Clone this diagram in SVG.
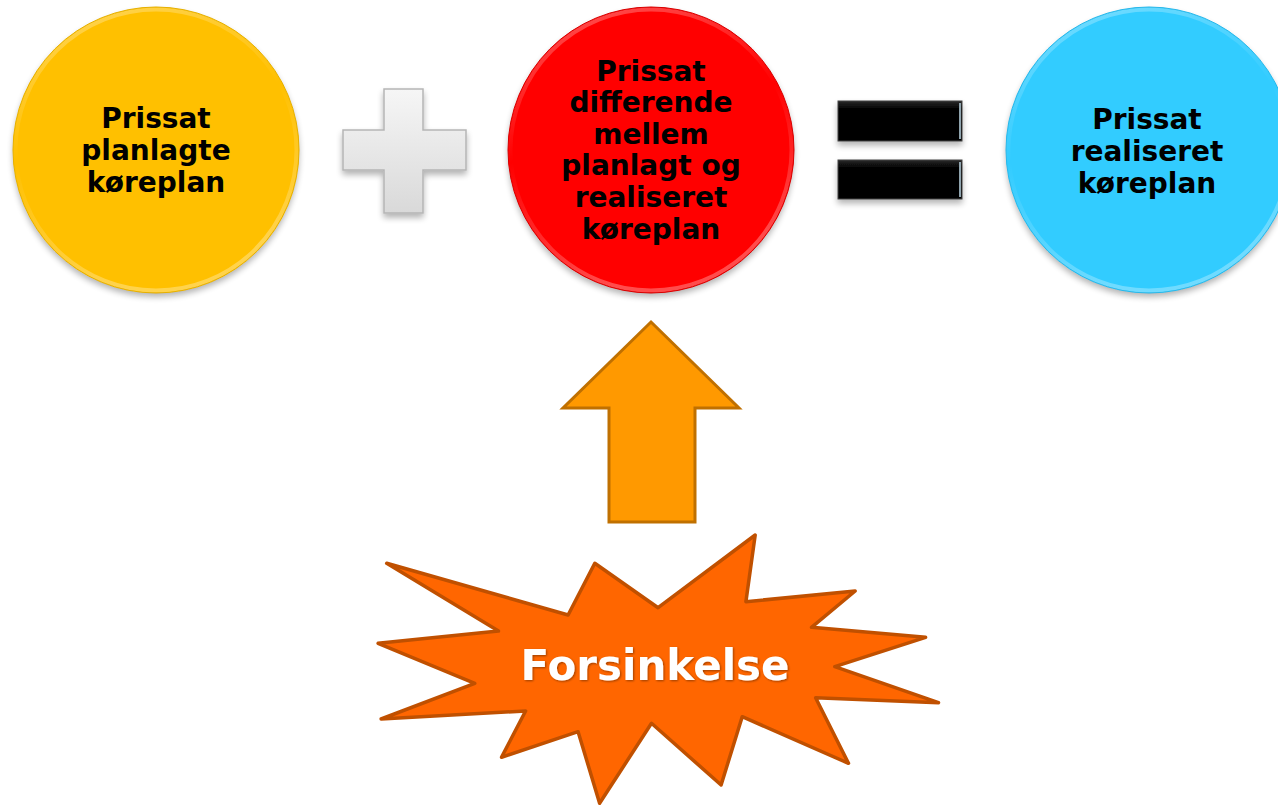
<svg xmlns="http://www.w3.org/2000/svg" width="1278" height="805" viewBox="0 0 1278 805">
<defs>
<filter id="shadow" x="-20%" y="-20%" width="140%" height="150%">
<feGaussianBlur in="SourceAlpha" stdDeviation="3"/>
<feOffset dx="0" dy="4" result="b"/>
<feComponentTransfer><feFuncA type="linear" slope="0.3"/></feComponentTransfer>
<feMerge><feMergeNode/><feMergeNode in="SourceGraphic"/></feMerge>
</filter>
<filter id="tshadow" x="-5%" y="-20%" width="110%" height="140%">
<feGaussianBlur in="SourceAlpha" stdDeviation="0.8"/>
<feOffset dx="1" dy="1"/>
<feComponentTransfer><feFuncA type="linear" slope="0.4"/></feComponentTransfer>
<feMerge><feMergeNode/><feMergeNode in="SourceGraphic"/></feMerge>
</filter>
<linearGradient id="rim" x1="0" y1="0" x2="0.3" y2="1">
<stop offset="0" stop-color="#fff" stop-opacity="0.35"/>
<stop offset="0.5" stop-color="#fff" stop-opacity="0"/>
<stop offset="1" stop-color="#fff" stop-opacity="0.3"/>
</linearGradient>
<linearGradient id="plusFill" x1="0" y1="0" x2="0" y2="1">
<stop offset="0" stop-color="#f6f6f6"/>
<stop offset="1" stop-color="#d9d9d9"/>
</linearGradient>
<linearGradient id="eqFill" x1="0" y1="0" x2="0" y2="1">
<stop offset="0" stop-color="#2a2a2a"/>
<stop offset="0.2" stop-color="#000"/>
<stop offset="1" stop-color="#050505"/>
</linearGradient>
<style>
.lbl{font-family:"DejaVu Sans","Verdana",sans-serif;font-weight:bold;font-size:28px;fill:#000;text-anchor:middle}
.rimc{fill:none;stroke:url(#rim);stroke-width:4}
.edge{fill:none;stroke-width:1}
.burst{fill:#FF6600;stroke:#C05000;stroke-width:3.5;stroke-linejoin:round}
.big{font-family:"DejaVu Sans","Verdana",sans-serif;font-weight:bold;font-size:42px;fill:#fff;text-anchor:middle}
</style>
</defs>
<rect width="1278" height="805" fill="#fff"/>

<g id="planned">
<circle cx="156" cy="150" r="143" fill="#FFC000" filter="url(#shadow)"/>
<circle cx="156" cy="150" r="140.5" class="rimc"/>
<circle cx="156" cy="150" r="143" class="edge" stroke="#E6B000"/>
<text class="lbl" x="156" y="128">Prissat</text>
<text class="lbl" x="156" y="160">planlagte</text>
<text class="lbl" x="156" y="192">køreplan</text>
</g>

<g id="plus" filter="url(#shadow)">
<path d="M384,89 H423 V130 H466 V170 H423 V213 H384 V170 H343 V130 H384 Z" fill="url(#plusFill)" stroke="#b5b5b5" stroke-width="1.5"/>
</g>

<g id="difference">
<circle cx="651" cy="150" r="143" fill="#FF0000" filter="url(#shadow)"/>
<circle cx="651" cy="150" r="140.5" class="rimc"/>
<circle cx="651" cy="150" r="143" class="edge" stroke="#D80000"/>
<text class="lbl" x="651" y="81">Prissat</text>
<text class="lbl" x="651" y="112">differende</text>
<text class="lbl" x="651" y="144">mellem</text>
<text class="lbl" x="651" y="175">planlagt og</text>
<text class="lbl" x="651" y="207">realiseret</text>
<text class="lbl" x="651" y="239">køreplan</text>
</g>

<g id="equals" filter="url(#shadow)">
<rect x="838" y="101" width="124" height="40" fill="url(#eqFill)" stroke="#444" stroke-width="1"/>
<rect x="838" y="160" width="124" height="39" fill="url(#eqFill)" stroke="#444" stroke-width="1"/>
<line x1="960" y1="103" x2="960" y2="139" stroke="#8fa3ad" stroke-width="2"/>
<line x1="960" y1="162" x2="960" y2="197" stroke="#8fa3ad" stroke-width="2"/>
</g>

<g id="realized">
<circle cx="1149" cy="150" r="143" fill="#33CCFF" filter="url(#shadow)"/>
<circle cx="1149" cy="150" r="140.5" class="rimc"/>
<circle cx="1149" cy="150" r="143" class="edge" stroke="#28B8EA"/>
<text class="lbl" x="1147" y="129">Prissat</text>
<text class="lbl" x="1147" y="161">realiseret</text>
<text class="lbl" x="1147" y="193">køreplan</text>
</g>

<g id="connectors">
<path d="M651,322 L739,408 H695 V522 H609 V408 H563 Z" fill="#FF9900" stroke="#C07000" stroke-width="3" stroke-linejoin="miter"/>
</g>

<g id="delay">
<polygon class="burst" points="386.7,563.3 568.1,615 594.8,563.3 658.1,607.7 755.2,535 745.9,601.7 855.2,591 811.5,627.3 925.6,637.3 834.8,666.7 938.5,702.7 815.6,697.7 848.5,763.3 742.2,716.7 721.1,785 651.5,723.3 599.6,803.3 578.1,731.7 501.5,757.3 525.6,711 381.1,719 474.8,683.3 378.1,643.3 498.5,631"/>
<text class="big" x="655" y="680" filter="url(#tshadow)">Forsinkelse</text>
</g>
</svg>
